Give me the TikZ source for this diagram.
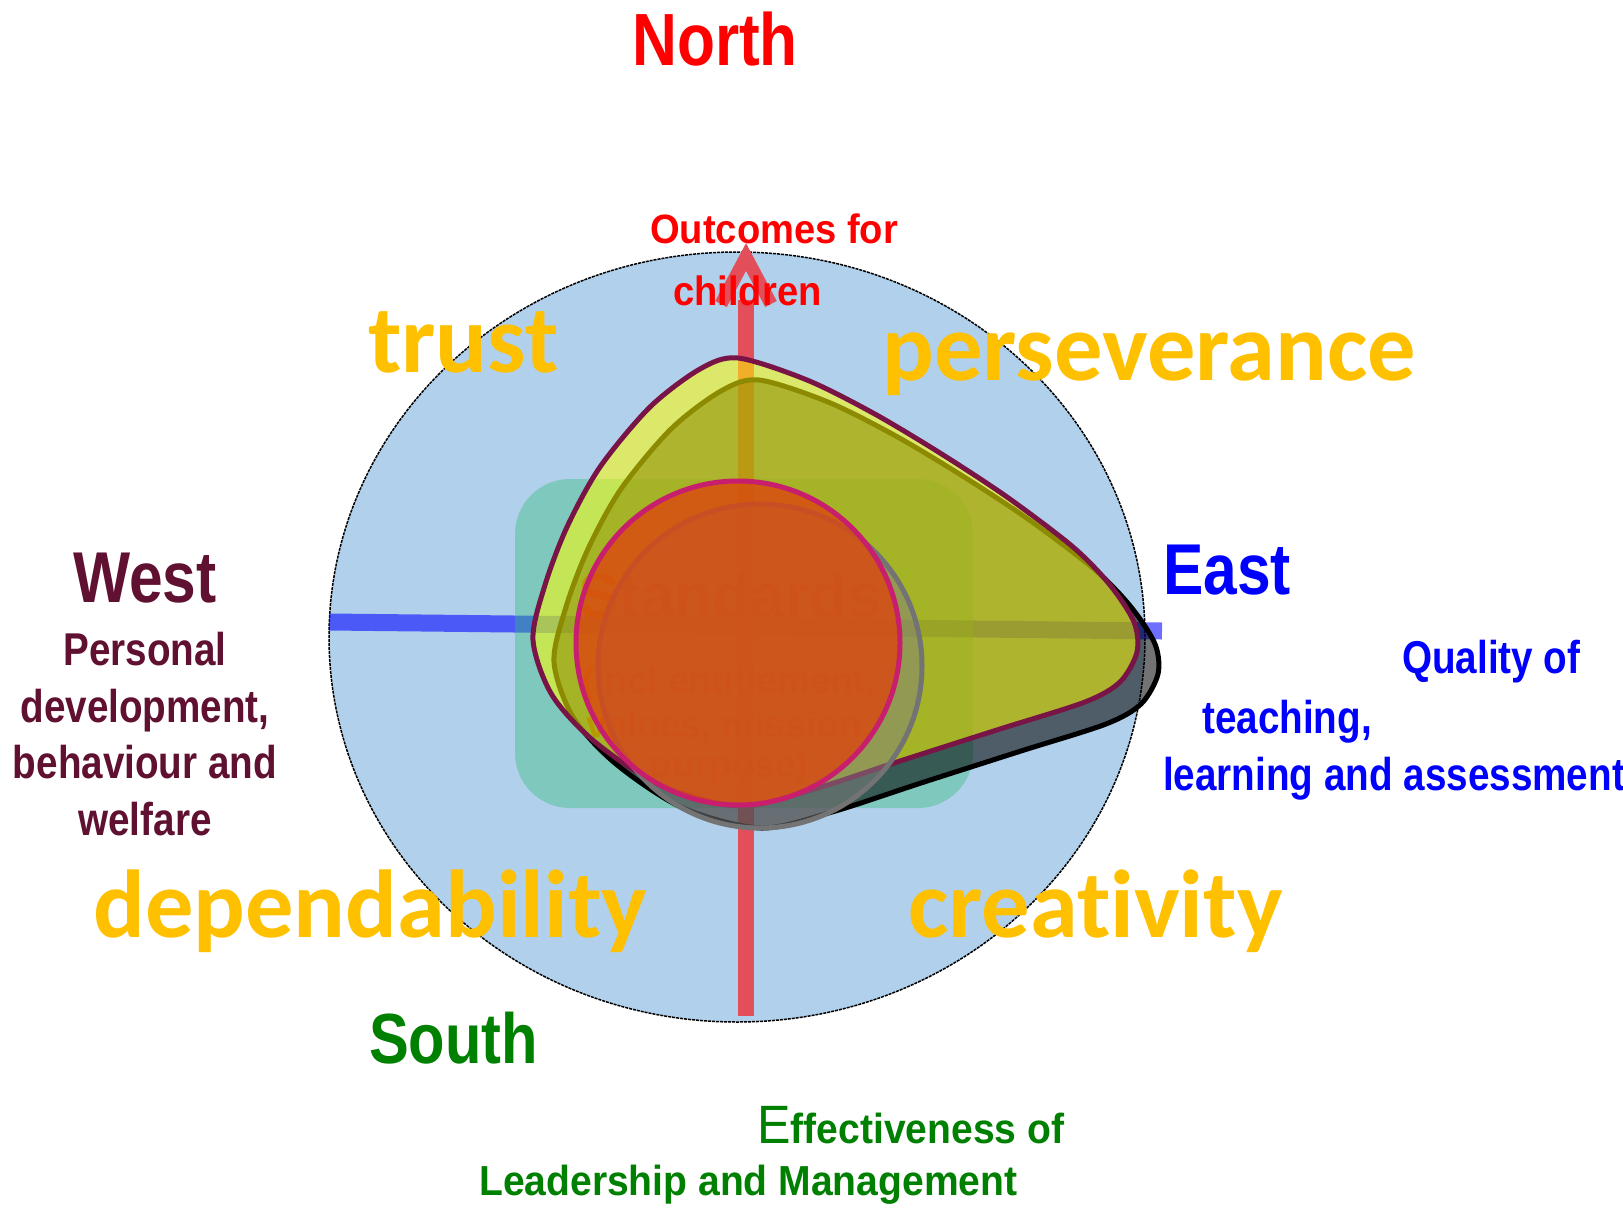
\documentclass[tikz,border=0pt]{standalone}
\usepackage{fontspec}
\setmainfont{Liberation Sans}
\newfontfamily\nA[FakeStretch=0.84]{Liberation Sans}
\newfontfamily\nB[FakeStretch=0.93]{Liberation Sans}
\newfontfamily\calfont[Ligatures={NoCommon,NoRare}]{Carlito}
\definecolor{circblue}{RGB}{176,208,235}
\definecolor{arrred}{RGB}{226,78,90}
\definecolor{rectteal}{RGB}{51,188,122}
\definecolor{blobyel}{RGB}{255,253,0}
\definecolor{maroonline}{RGB}{120,20,70}
\definecolor{redfill}{RGB}{220,70,15}
\definecolor{pinkline}{RGB}{200,30,110}
\definecolor{shadowgray}{RGB}{128,128,128}
\definecolor{gold}{RGB}{255,192,0}
\definecolor{westc}{RGB}{96,16,48}
\definecolor{southc}{RGB}{0,128,0}
\definecolor{stdtext}{RGB}{210,70,10}
\begin{document}
\begin{tikzpicture}[x=1pt,y=-1pt,
  cardinal/.style={inner sep=0pt, anchor=base west, font=\nA\bfseries\fontsize{72}{80}\selectfont},
  sub/.style={inner sep=0pt, anchor=base west, font=\nA\bfseries\fontsize{46}{52}\selectfont},
  subB/.style={inner sep=0pt, anchor=base west, font=\nB\bfseries\fontsize{42}{48}\selectfont},
  virtue/.style={inner sep=0pt, anchor=base west, text=gold, font=\calfont\bfseries\fontsize{96.5}{100}\selectfont},
  stdbig/.style={inner sep=0pt, anchor=base, text=stdtext, font=\bfseries\fontsize{62}{70}\selectfont},
  stdsmall/.style={inner sep=0pt, anchor=base, text=stdtext, font=\bfseries\fontsize{37}{42}\selectfont},
  blobline/.style={line width=5pt},
  ]
\useasboundingbox (0,0) rectangle (1623,1210);
\fill[white] (0,0) rectangle (1623,1210);

% compass circle
\draw[fill=circblue, line width=1.5pt, dash pattern=on 3pt off 1pt] (737,637) ellipse [x radius=408pt, y radius=385pt];

% axes
\coordinate (lineW) at (329,622);
\coordinate (lineE) at (1162,631);
\coordinate (arrS) at (746,1016);
\coordinate (arrN) at (746,257);
\draw[blue, draw opacity=0.57, line width=17pt] (lineW) -- (lineE);
\draw[arrred, line width=16pt] (arrS) -- ([yshift=-43pt]arrN);
\draw[arrred, line width=13pt, miter limit=10] ([xshift=-25pt,yshift=-47pt]arrN) -- (arrN) -- ([xshift=25pt,yshift=-47pt]arrN);

% north label texts
\node[subB, text=red, font=\nB\bfseries\fontsize{41}{48}\selectfont] (outc1) at (650,243) {Outcomes for};
\node[subB, text=red, font=\nB\bfseries\fontsize{41}{48}\selectfont] (outc2) at (673,305) {children};

% standards box
\fill[rectteal, fill opacity=0.4, rounded corners=55pt] (515,479) rectangle (973,808);
\node[stdbig] (std1) at (730,617) {Standards};
\node[stdsmall] (std2) at (729,693) {(incl entitlement,};
\node[stdsmall] (std3) at (729,737) {values, mission,};
\node[stdsmall] (std4) at (729,777) {purpose)};

% shadow blob
\begin{scope}[shift={(21,22)}]
\draw[black, blobline, fill=black, fill opacity=0.55]
  plot[smooth cycle, tension=0.5] coordinates {(738,358) (807,380) (873,413) (940,453) (1007,497) (1073,547) (1110,585) (1134,622) (1137,652) (1120,682) (1085,702) (1000,729) (900,761) (811,790) (740,806) (662,786) (595,742) (552,695) (533,640) (545,585) (567,527) (600,467) (650,407) (700,369)};
\end{scope}
% yellow blob
\draw[maroonline, blobline, fill=blobyel, fill opacity=0.55]
  plot[smooth cycle, tension=0.5] coordinates {(738,358) (807,380) (873,413) (940,453) (1007,497) (1073,547) (1110,585) (1134,622) (1137,652) (1120,682) (1085,702) (1000,729) (900,761) (811,790) (740,806) (662,786) (595,742) (552,695) (533,640) (545,585) (567,527) (600,467) (650,407) (700,369)};

% circles
\draw[shadowgray!110!white, line width=5pt, fill=shadowgray, fill opacity=0.5] (760,666) circle [radius=162pt];
\draw[pinkline, line width=5pt, fill=redfill, fill opacity=0.8] (738,643) circle [radius=162pt];

% virtues
\node[virtue] (trust) at (368,372) {trust};
\node[virtue] (persev) at (882,380) {perseverance};
\node[virtue] (depend) at (93,937) {dependability};
\node[virtue] (creat) at (908,937) {creativity};

% North
\node[cardinal, anchor=base, text=red, font=\nA\bfseries\fontsize{74}{80}\selectfont] (north) at (715,65) {North};

% West
\node[cardinal, anchor=base, text=westc] (west) at (145,602) {West};
\node[sub, anchor=base, text=westc] (w1) at (145,665) {Personal};
\node[sub, anchor=base, text=westc] (w2) at (145,722) {development,};
\node[sub, anchor=base, text=westc] (w3) at (145,778) {behaviour and};
\node[sub, anchor=base, text=westc] (w4) at (145,835) {welfare};

% East
\node[cardinal, text=blue] (east) at (1163,594) {East};
\node[sub, text=blue] (e1) at (1402,673) {Quality of};
\node[sub, text=blue] (e2) at (1202,733) {teaching,};
\node[sub, text=blue] (e3) at (1163,790) {learning and assessment};

% South
\node[cardinal, text=southc, font=\nA\bfseries\fontsize{71}{80}\selectfont] (south) at (369,1063) {South};
\node[subB, text=southc] (s1) at (757,1143) {{\mdseries\fontsize{54}{56}\selectfont E}ffectiveness of};
\node[subB, text=southc] (s2) at (479,1195) {Leadership and Management};
\end{tikzpicture}
\end{document}
